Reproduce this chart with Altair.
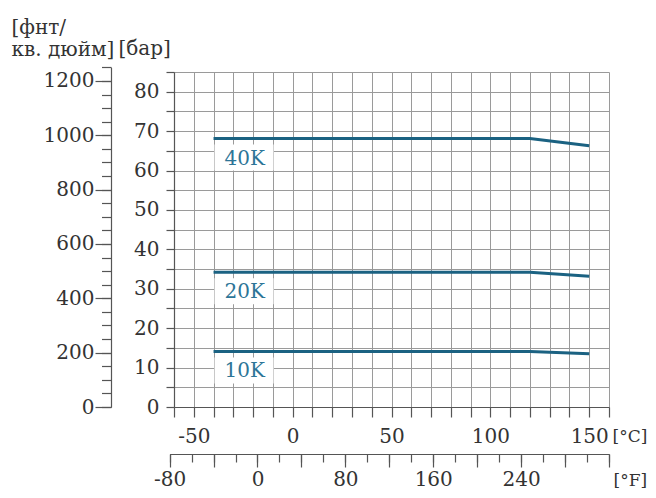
import altair as alt
import pandas as pd

# ---- data ----
temps_c = [-40, 120, 150]
series_names = ["10K", "20K", "40K"]
p_10k = [14.1, 14.1, 13.5]
p_20k = [34.2, 34.2, 33.2]
p_40k = [68.1, 68.1, 66.3]

bar_ticks = list(range(0, 86, 5))
c_ticks = list(range(-60, 161, 10))
f_major = list(range(-80, 321, 40))
f_minor = list(range(-80, 321, 20))
psi_major = list(range(0, 1201, 200))
psi_minor = list(range(0, 1251, 50))

# ---- styling ----
W, H = 435, 335
FONT = "DejaVu Serif"
TXT = "#333333"
LINE = "#1b6282"
LBL = "#2d7597"
GRID = "#9a9a9a"
AXIS = "#555555"
PSI_PER_BAR = 14.5038
BAR_MAX = 85
PSI_MAX = 1250
PSI_TOP = H - PSI_MAX / PSI_PER_BAR * H / BAR_MAX
F_LEFT = ((-80 - 32) / 1.8 + 60) / 220 * W
F_OFFSET = 47

rows = []
for name, vals in zip(series_names, [p_10k, p_20k, p_40k]):
    for t, v in zip(temps_c, vals):
        rows.append({"series": name, "t": t, "p": v})
df = pd.DataFrame(rows)
lab = df.groupby("series", as_index=False).first()


def xs():
    return alt.Scale(domain=[-60, 160], range=[0, W], nice=False, zero=False)


def ys():
    return alt.Scale(domain=[0, BAR_MAX], range=[H, 0], nice=False, zero=False)


def fs():
    return alt.Scale(domain=[-80, 320], range=[F_LEFT, W], nice=False, zero=False)


def psi_scale():
    return alt.Scale(domain=[0, PSI_MAX], range=[H, PSI_TOP], nice=False, zero=False)


lines = alt.Chart(df).mark_line(strokeWidth=3, color=LINE).encode(
    x=alt.X("t:Q", scale=xs(), axis=alt.Axis(
        orient="bottom", values=c_ticks,
        labelExpr="datum.value % 50 === 0 ? '' + datum.value : ''",
        grid=True, tickSize=10, labelBaseline="middle", labelPadding=19,
        title="[°C]", titleX=W + 3, titleY=29, titleAlign="left",
        titleBaseline="middle", titleAngle=0, titleFontSize=17)),
    y=alt.Y("p:Q", scale=ys(), axis=alt.Axis(
        orient="left", values=bar_ticks,
        labelExpr="datum.value % 10 === 0 ? '' + datum.value : ''",
        grid=True, tickSize=8, labelPadding=7,
        title="[бар]", titleX=-56, titleY=-18, titleAngle=0,
        titleAlign="left", titleBaseline="alphabetic")),
    detail="series:N",
)

boxes = alt.Chart(lab).mark_rect(
    color="white", xOffset=1, x2Offset=60, yOffset=6, y2Offset=32
).encode(
    x=alt.X("t:Q", scale=xs(), axis=None), x2="t:Q",
    y=alt.Y("p:Q", scale=ys(), axis=None), y2="p:Q",
)

texts = alt.Chart(lab).mark_text(
    align="left", baseline="middle", dx=11, dy=20,
    font=FONT, fontSize=20, color=LBL
).encode(
    x=alt.X("t:Q", scale=xs(), axis=None),
    y=alt.Y("p:Q", scale=ys(), axis=None),
    text="series:N",
)

f_df = pd.DataFrame({"f": [f_minor[0], f_minor[-1]]})
f_major_layer = alt.Chart(f_df).mark_point(opacity=0).encode(
    x=alt.X("f:Q", scale=fs(), axis=alt.Axis(
        orient="bottom", offset=F_OFFSET, values=f_major,
        labelExpr="datum.value % 80 === 0 && datum.value < 300 ? '' + datum.value : ''",
        tickSize=13, labelBaseline="alphabetic", labelPadding=18, grid=False,
        title="[°F]", titleX=W + 4, titleY=31, titleAlign="left",
        titleBaseline="alphabetic", titleAngle=0, titleFontSize=17)),
    y=alt.value(0),
)
f_minor_layer = alt.Chart(f_df).mark_point(opacity=0).encode(
    x=alt.X("f:Q", scale=fs(), axis=alt.Axis(
        orient="bottom", offset=F_OFFSET, values=f_minor, labels=False,
        tickSize=8, domain=False, grid=False, title="")),
    y=alt.value(0),
)

psi_df = pd.DataFrame({"psi": [0, PSI_MAX]})
psi_major_layer = alt.Chart(psi_df).mark_point(opacity=0).encode(
    x=alt.value(0),
    y=alt.Y("psi:Q", scale=psi_scale(), axis=alt.Axis(
        orient="left", offset=63, values=psi_major, labelExpr="'' + datum.value",
        tickSize=16, labelPadding=1, grid=False,
        title="[фнт/", titleX=-100, titleY=-39, titleAngle=0,
        titleAlign="left", titleBaseline="alphabetic")),
)
psi_minor_layer = alt.Chart(psi_df).mark_point(opacity=0).encode(
    x=alt.value(0),
    y=alt.Y("psi:Q", scale=psi_scale(), axis=alt.Axis(
        orient="left", offset=63, values=psi_minor, labels=False,
        tickSize=9.5, domain=False, grid=False,
        title="кв. дюйм]", titleX=-100, titleY=-17, titleAngle=0,
        titleAlign="left", titleBaseline="alphabetic")),
)

chart = alt.layer(
    lines, boxes, texts, f_major_layer, f_minor_layer, psi_major_layer, psi_minor_layer
).resolve_scale(x="independent", y="independent").properties(
    width=W, height=H,
    autosize=alt.AutoSizeParams(type="none"),
    padding={"left": 166, "top": 64, "right": 39, "bottom": 83},
).configure_view(stroke=None).configure_axis(
    labelFont=FONT, labelFontSize=20, labelColor=TXT,
    titleFont=FONT, titleFontSize=20, titleColor=TXT, titleFontWeight="normal",
    domainColor=AXIS, tickColor=AXIS, domainWidth=1.2, tickWidth=1.2,
    labelFlush=False, labelOverlap=False, gridColor=GRID, gridWidth=1,
)

chart.save("out.html", embed_options={"renderer": "svg", "actions": False})
